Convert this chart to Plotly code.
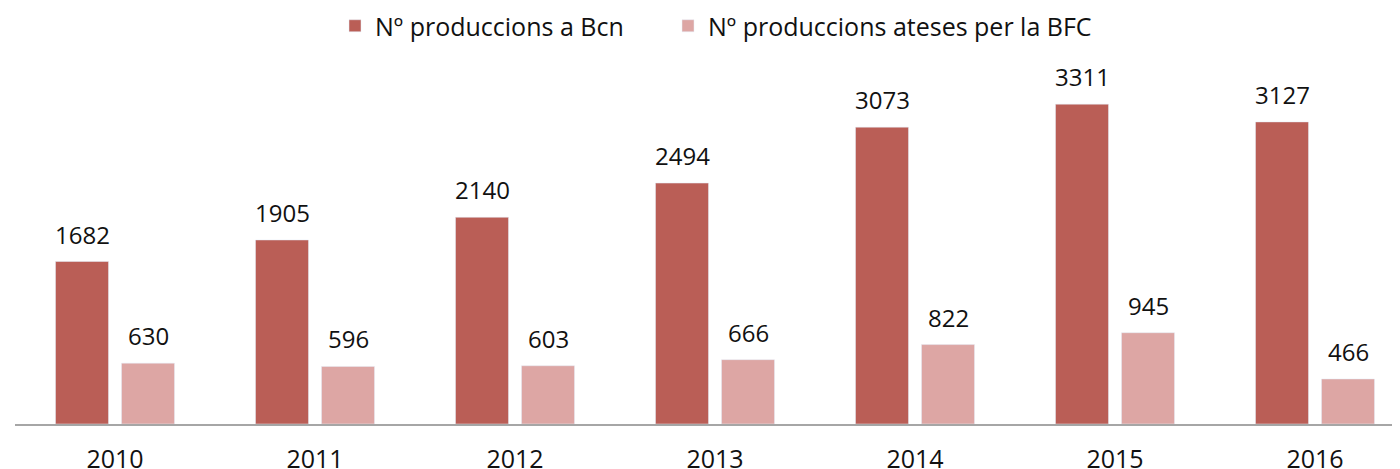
import plotly.graph_objects as go

years = ["2010", "2011", "2012", "2013", "2014", "2015", "2016"]
bcn = [1682, 1905, 2140, 2494, 3073, 3311, 3127]
bfc = [630, 596, 603, 666, 822, 945, 466]
names = ["Nº produccions a Bcn", "Nº produccions ateses per la BFC"]

x = list(range(len(years)))
fig = go.Figure()
fig.add_trace(go.Bar(x=x, y=bcn, name=names[0], marker_color="#BA5E56", legend="legend"))
fig.add_trace(go.Bar(x=x, y=bfc, name=names[1], marker_color="#DDA6A4", legend="legend2"))

# value labels above bars
off = 0.165
for xi, v in zip(x, bcn):
    fig.add_annotation(x=xi - off, y=v, text=str(v), showarrow=False,
                       yanchor="bottom", yshift=9, font=dict(size=24, color="#111"))
for xi, v in zip(x, bfc):
    fig.add_annotation(x=xi + off, y=v, text=str(v), showarrow=False,
                       yanchor="bottom", yshift=9, font=dict(size=24, color="#111"))

W, H = 1392, 461
leg_common = dict(orientation="h", xanchor="left", xref="container",
                  y=1 - 18 / H, yanchor="middle", yref="container",
                  font=dict(size=25, color="#111"), bgcolor="rgba(0,0,0,0)")

fig.update_layout(
    width=W, height=H,
    margin=dict(l=7, r=0, t=52, b=45, autoexpand=False),
    barmode="group", bargap=0.34, bargroupgap=0.197,
    plot_bgcolor="white", paper_bgcolor="white",
    font=dict(family="Open Sans", size=25, color="#111"),
    showlegend=True,
    legend=dict(x=327 / W, **leg_common),
    legend2=dict(x=660 / W, **leg_common),
    xaxis=dict(range=[-0.5, 6.425], tickmode="array", tickvals=x, ticktext=years,
               showline=True, linecolor="#A6A6A6", linewidth=2, showgrid=False,
               ticks="", tickfont=dict(size=25), zeroline=False,
               ticklabelstandoff=12, automargin=False),
    yaxis=dict(range=[0, 3768], visible=False, showgrid=False, zeroline=False,
               automargin=False),
)
fig.write_html("out.html")
